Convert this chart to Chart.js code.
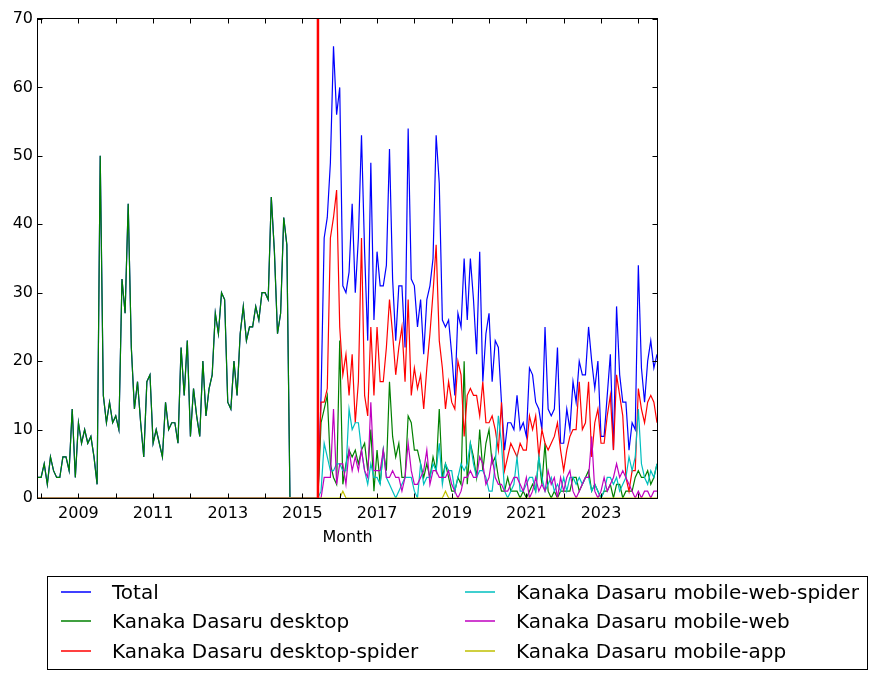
<!DOCTYPE html>
<html>
<head>
<meta charset="utf-8">
<script src="https://cdn.jsdelivr.net/npm/chart.js@4.4.0/dist/chart.umd.min.js"></script>
<style>
html, body { margin: 0; padding: 0; background: #fff; }
#wrap { position: relative; width: 878px; height: 679px; font-family: "DejaVu Sans", sans-serif; }
#legend { position: absolute; left: 47px; top: 576px; width: 819px; height: 92px; border: 1px solid #000; font-size: 20px; color: #000; }
.item { position: absolute; white-space: nowrap; height: 20px; }
.item canvas { position: absolute; left: 0; top: 8px; }
.item span { position: absolute; left: 51px; top: -2px; line-height: 24px; }
</style>
</head>
<body>
<div id="wrap">
  <canvas id="grafico" width="878" height="679"></canvas>
  <div id="legend"></div>
</div>
<script>
// months start at 2007-12, one value per month up to 2024-07
var startYear = 2007, startMonth = 12;
var tickYears = [2008, 2009, 2010, 2011, 2012, 2013, 2014, 2015, 2016, 2017, 2018, 2019, 2020, 2021, 2022, 2023, 2024];
var labelYears = [2009, 2011, 2013, 2015, 2017, 2019, 2021, 2023];
var yTicks = [0, 10, 20, 30, 40, 50, 60, 70];
var splitMonth = 90; // 2015-06, red marker

var seriesNames = ['Total', 'Kanaka Dasaru desktop', 'Kanaka Dasaru desktop-spider',
    'Kanaka Dasaru mobile-web-spider', 'Kanaka Dasaru mobile-web', 'Kanaka Dasaru mobile-app'];
var seriesColors = ['#0000ff', '#008000', '#ff0000', '#00bfbf', '#bf00bf', '#bfbf00'];

var total = [
    3, 3, 5, 2, 6, 4, 3, 3, 6, 6,
    4, 13, 3, 11, 8, 10, 8, 9, 6, 2,
    50, 15, 11, 14, 11, 12, 10, 32, 27, 43,
    22, 13, 17, 11, 6, 17, 18, 8, 10, 8,
    6, 14, 10, 11, 11, 8, 22, 15, 23, 9,
    16, 12, 9, 20, 12, 16, 18, 27, 24, 30,
    29, 14, 13, 20, 15, 24, 28, 23, 25, 25,
    28, 26, 30, 30, 29, 44, 36, 24, 27, 41,
    37, 0, 0, 0, 0, 0, 0, 0, 0, 0,
    0, 15, 38, 41, 49, 66, 56, 60, 31, 30,
    33, 43, 30, 38, 53, 36, 23, 49, 26, 36,
    31, 31, 34, 51, 32, 23, 31, 31, 22, 54,
    32, 31, 25, 29, 21, 29, 31, 35, 53, 46,
    26, 25, 26, 21, 15, 27, 25, 35, 26, 35,
    29, 21, 36, 17, 24, 27, 17, 23, 22, 14,
    7, 11, 11, 10, 15, 10, 11, 9, 19, 18,
    14, 13, 10, 25, 13, 12, 13, 22, 8, 8,
    13, 10, 17, 14, 20, 18, 18, 25, 20, 16,
    20, 9, 9, 15, 21, 7, 28, 18, 14, 14,
    7, 11, 10, 34, 19, 14, 20, 23, 19, 21
];
var desktop = [
    3, 3, 5, 2, 6, 4, 3, 3, 6, 6,
    4, 13, 3, 11, 8, 10, 8, 9, 6, 2,
    50, 15, 11, 14, 11, 12, 10, 32, 27, 43,
    22, 13, 17, 11, 6, 17, 18, 8, 10, 8,
    6, 14, 10, 11, 11, 8, 22, 15, 23, 9,
    16, 12, 9, 20, 12, 16, 18, 27, 24, 30,
    29, 14, 13, 20, 15, 24, 28, 23, 25, 25,
    28, 26, 30, 30, 29, 44, 36, 24, 27, 41,
    37, 0, 0, 0, 0, 0, 0, 0, 0, 0,
    0, 11, 13, 15, 5, 3, 2, 23, 2, 5,
    7, 6, 7, 5, 7, 8, 4, 10, 1, 7,
    2, 7, 4, 17, 9, 6, 8, 3, 3, 12,
    11, 7, 7, 5, 3, 5, 3, 6, 4, 13,
    3, 5, 3, 1, 1, 3, 2, 20, 2, 8,
    6, 3, 10, 4, 8, 10, 5, 6, 3, 1,
    1, 3, 1, 1, 1, 0, 1, 0, 1, 2,
    1, 6, 2, 8, 1, 0, 1, 0, 1, 1,
    1, 1, 3, 3, 1, 2, 3, 4, 1, 2,
    1, 0, 1, 1, 2, 0, 2, 2, 0, 1,
    1, 1, 3, 4, 3, 3, 4, 2, 3, 5
];
var desktopSpider = [
    0, 0, 0, 0, 0, 0, 0, 0, 0, 0,
    0, 0, 0, 0, 0, 0, 0, 0, 0, 0,
    0, 0, 0, 0, 0, 0, 0, 0, 0, 0,
    0, 0, 0, 0, 0, 0, 0, 0, 0, 0,
    0, 0, 0, 0, 0, 0, 0, 0, 0, 0,
    0, 0, 0, 0, 0, 0, 0, 0, 0, 0,
    0, 0, 0, 0, 0, 0, 0, 0, 0, 0,
    0, 0, 0, 0, 0, 0, 0, 0, 0, 0,
    0, 0, 0, 0, 0, 0, 0, 0, 0, 0,
    0, 14, 14, 16, 38, 41, 45, 25, 18, 21,
    15, 21, 11, 17, 38, 15, 12, 25, 15, 25,
    17, 17, 22, 29, 24, 18, 22, 25, 17, 29,
    15, 19, 16, 18, 13, 19, 24, 30, 37, 23,
    19, 13, 17, 14, 13, 20, 18, 9, 15, 16,
    15, 15, 12, 17, 11, 11, 12, 10, 7, 14,
    4, 6, 8, 7, 6, 8, 7, 7, 12, 10,
    12, 6, 10, 8, 7, 8, 9, 11, 7, 4,
    7, 9, 10, 10, 17, 10, 11, 17, 6, 11,
    13, 8, 8, 12, 15, 7, 18, 15, 12, 3,
    1, 4, 4, 16, 13, 11, 14, 15, 14, 11
];
var mobileWebSpider = [
    0, 0, 0, 0, 0, 0, 0, 0, 0, 0,
    0, 0, 0, 0, 0, 0, 0, 0, 0, 0,
    0, 0, 0, 0, 0, 0, 0, 0, 0, 0,
    0, 0, 0, 0, 0, 0, 0, 0, 0, 0,
    0, 0, 0, 0, 0, 0, 0, 0, 0, 0,
    0, 0, 0, 0, 0, 0, 0, 0, 0, 0,
    0, 0, 0, 0, 0, 0, 0, 0, 0, 0,
    0, 0, 0, 0, 0, 0, 0, 0, 0, 0,
    0, 0, 0, 0, 0, 0, 0, 0, 0, 0,
    0, 1, 8, 6, 4, 4, 5, 5, 4, 4,
    13, 10, 11, 11, 7, 4, 2, 5, 3, 3,
    2, 7, 3, 2, 1, 0, 1, 2, 3, 3,
    3, 1, 0, 5, 2, 3, 3, 5, 4, 8,
    2, 5, 4, 4, 1, 3, 5, 4, 5, 8,
    5, 3, 4, 4, 3, 1, 1, 5, 12, 8,
    1, 0, 1, 2, 6, 1, 1, 2, 3, 3,
    1, 6, 3, 1, 2, 3, 1, 2, 1, 3,
    1, 3, 3, 2, 3, 2, 3, 3, 1, 2,
    1, 0, 1, 3, 3, 2, 3, 1, 2, 3,
    6, 4, 6, 13, 5, 3, 2, 4, 3, 5
];
var mobileWeb = [
    0, 0, 0, 0, 0, 0, 0, 0, 0, 0,
    0, 0, 0, 0, 0, 0, 0, 0, 0, 0,
    0, 0, 0, 0, 0, 0, 0, 0, 0, 0,
    0, 0, 0, 0, 0, 0, 0, 0, 0, 0,
    0, 0, 0, 0, 0, 0, 0, 0, 0, 0,
    0, 0, 0, 0, 0, 0, 0, 0, 0, 0,
    0, 0, 0, 0, 0, 0, 0, 0, 0, 0,
    0, 0, 0, 0, 0, 0, 0, 0, 0, 0,
    0, 0, 0, 0, 0, 0, 0, 0, 0, 0,
    0, 0, 3, 3, 3, 13, 2, 5, 5, 2,
    7, 4, 6, 4, 7, 4, 3, 14, 4, 4,
    4, 7, 3, 3, 4, 3, 3, 1, 3, 8,
    4, 2, 2, 3, 4, 7, 2, 4, 4, 3,
    3, 3, 4, 2, 1, 0, 1, 3, 3, 4,
    3, 3, 6, 5, 2, 3, 6, 3, 2, 2,
    1, 1, 2, 3, 3, 2, 1, 3, 0, 1,
    3, 1, 2, 1, 4, 2, 3, 0, 3, 1,
    3, 4, 1, 0, 1, 2, 3, 3, 9, 1,
    0, 1, 3, 1, 2, 3, 5, 3, 4, 3,
    2, 1, 0, 1, 0, 1, 1, 0, 1, 1
];
var mobileApp = [
    0, 0, 0, 0, 0, 0, 0, 0, 0, 0,
    0, 0, 0, 0, 0, 0, 0, 0, 0, 0,
    0, 0, 0, 0, 0, 0, 0, 0, 0, 0,
    0, 0, 0, 0, 0, 0, 0, 0, 0, 0,
    0, 0, 0, 0, 0, 0, 0, 0, 0, 0,
    0, 0, 0, 0, 0, 0, 0, 0, 0, 0,
    0, 0, 0, 0, 0, 0, 0, 0, 0, 0,
    0, 0, 0, 0, 0, 0, 0, 0, 0, 0,
    0, 0, 0, 0, 0, 0, 0, 0, 0, 0,
    0, 0, 0, 0, 0, 0, 0, 0, 1, 0,
    0, 0, 0, 0, 0, 0, 0, 0, 0, 0,
    0, 0, 0, 0, 0, 0, 0, 0, 0, 0,
    0, 0, 0, 0, 0, 0, 0, 0, 0, 0,
    0, 1, 0, 0, 0, 0, 0, 0, 0, 0,
    0, 0, 0, 0, 0, 0, 0, 0, 0, 0,
    0, 0, 0, 0, 0, 0, 0, 0, 0, 0,
    0, 0, 0, 0, 0, 0, 0, 0, 0, 0,
    0, 0, 0, 0, 0, 0, 0, 0, 0, 0,
    0, 0, 0, 0, 0, 0, 0, 0, 0, 0,
    0, 0, 0, 0, 0, 0, 0, 0, 0, 0
];

var allSeries = [total, desktop, desktopSpider, mobileWebSpider, mobileWeb, mobileApp];

function monthX(i) {
    return startYear + (startMonth - 1 + i) / 12;
}

var datasets = allSeries.map(function (values, s) {
    return {
        label: seriesNames[s],
        data: values.map(function (v, i) { return { x: monthX(i), y: v }; }),
        borderColor: seriesColors[s],
        backgroundColor: seriesColors[s],
        borderWidth: 1.2,
        pointRadius: 0,
        tension: 0,
        fill: false,
        order: allSeries.length - s   // later series drawn on top
    };
});

var font = { family: 'DejaVu Sans', size: 16 };

// red marker, frame and inward ticks like the original
var frame = {
    id: 'frame',
    afterDatasetsDraw: function (chart) {
        var ctx = chart.ctx, a = chart.chartArea;
        var vx = chart.scales.x.getPixelForValue(monthX(splitMonth));
        ctx.save();
        ctx.strokeStyle = '#ff0000';
        ctx.lineWidth = 2.5;
        ctx.beginPath();
        ctx.moveTo(vx, a.top);
        ctx.lineTo(vx, a.bottom);
        ctx.stroke();
        ctx.restore();
    },
    afterDraw: function (chart) {
        var ctx = chart.ctx, a = chart.chartArea;
        var x = chart.scales.x, y = chart.scales.y;
        var L = a.left - 0.5, R = a.right + 0.5, T = a.top - 0.5, B = a.bottom + 0.5;
        ctx.save();
        ctx.strokeStyle = '#000';
        ctx.lineWidth = 1;
        ctx.strokeRect(L, T, R - L, B - T);
        ctx.beginPath();
        tickYears.forEach(function (v) {
            var px = Math.round(x.getPixelForValue(v)) + 0.5;
            ctx.moveTo(px, B); ctx.lineTo(px, B - 5);
            ctx.moveTo(px, T); ctx.lineTo(px, T + 5);
        });
        yTicks.forEach(function (v) {
            var py = Math.round(y.getPixelForValue(v)) + 0.5;
            ctx.moveTo(L, py); ctx.lineTo(L + 5, py);
            ctx.moveTo(R, py); ctx.lineTo(R - 5, py);
        });
        ctx.stroke();
        ctx.restore();
    }
};

var ctx = document.getElementById('grafico');
var myChart = new Chart(ctx, {
    type: 'line',
    data: { datasets: datasets },
    options: {
        responsive: false,
        animation: false,
        devicePixelRatio: 1,
        layout: { padding: { top: 19, right: 221, left: 0, bottom: 0 } },
        plugins: { legend: { display: false }, tooltip: { enabled: false } },
        scales: {
            x: {
                type: 'linear',
                min: monthX(0),
                max: monthX(total.length - 1),
                afterBuildTicks: function (s) {
                    s.ticks = tickYears.map(function (v) { return { value: v }; });
                },
                afterFit: function (s) { s.height = 181; },
                ticks: {
                    autoSkip: false,
                    maxRotation: 0,
                    padding: 6,
                    color: '#000',
                    font: font,
                    callback: function (v) { return labelYears.indexOf(v) >= 0 ? String(v) : ''; }
                },
                grid: { display: false, drawTicks: false },
                border: { display: false },
                title: { display: true, text: 'Month', color: '#000', font: font, padding: { top: 0, bottom: 132 } }
            },
            y: {
                min: 0,
                max: 70,
                afterBuildTicks: function (s) {
                    s.ticks = yTicks.map(function (v) { return { value: v }; });
                },
                afterFit: function (s) { s.width = 38; },
                ticks: { padding: 5, color: '#000', font: font },
                grid: { display: false, drawTicks: false },
                border: { display: false }
            }
        }
    },
    plugins: [frame]
});

// legend box, two columns filled top to bottom
var legend = document.getElementById('legend');
var legendCols = [13, 417];
var legendRows = [5, 34, 64];
seriesNames.forEach(function (name, s) {
    var item = document.createElement('div');
    item.className = 'item';
    item.style.left = legendCols[Math.floor(s / 3)] + 'px';
    item.style.top = legendRows[s % 3] + 'px';
    var mark = document.createElement('canvas');
    mark.width = 30;
    mark.height = 4;
    var mctx = mark.getContext('2d');
    mctx.strokeStyle = seriesColors[s];
    mctx.lineWidth = 1.5;
    mctx.beginPath();
    mctx.moveTo(0, 2);
    mctx.lineTo(30, 2);
    mctx.stroke();
    var text = document.createElement('span');
    text.textContent = name;
    item.appendChild(mark);
    item.appendChild(text);
    legend.appendChild(item);
});
</script>
</body>
</html>
